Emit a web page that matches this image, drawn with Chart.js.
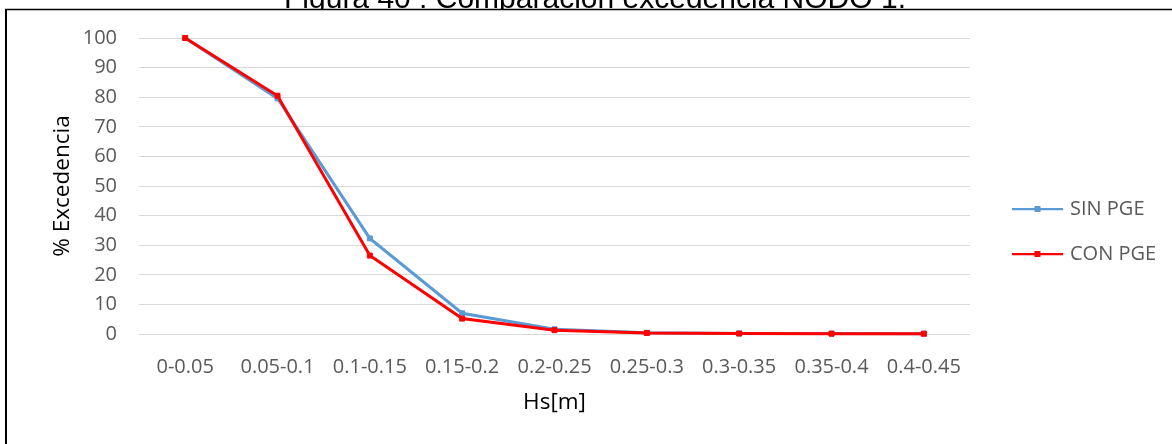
<!DOCTYPE html>
<html>
<head>
<meta charset="utf-8">
<script src="https://cdn.jsdelivr.net/npm/chart.js@4"></script>
<style>
  body { margin: 0; background: #fff; }
  #wrap { width: 1172px; height: 444px; position: relative; }
</style>
</head>
<body>
<div id="wrap"><canvas id="chart"></canvas></div>
<script>
// data
const categories = ['0-0.05', '0.05-0.1', '0.1-0.15', '0.15-0.2', '0.2-0.25', '0.25-0.3', '0.3-0.35', '0.35-0.4', '0.4-0.45'];
const sinPge = [100, 79.6, 32.3, 7.0, 1.6, 0.4, 0.2, 0.15, 0.1];
const conPge = [100, 80.5, 26.5, 5.2, 1.3, 0.35, 0.15, 0.1, 0.1];
const yTicks = [0, 10, 20, 30, 40, 50, 60, 70, 80, 90, 100];
const figTitle = 'Figura 40 : Comparación excedencia NODO 1.';

const tickFont = { family: 'Open Sans', size: 20 };
const titleFont = { family: 'Open Sans', size: 22.5 };

// white page, clipped caption above the frame, frame lines
const framePlugin = {
  id: 'frame',
  beforeDraw(chart) {
    const ctx = chart.ctx;
    ctx.save();
    ctx.fillStyle = '#fff';
    ctx.fillRect(0, 0, chart.width, chart.height);
    ctx.beginPath();
    ctx.rect(0, 0, chart.width, 9);
    ctx.clip();
    ctx.fillStyle = '#000';
    ctx.font = '30px "Liberation Sans", Arial, sans-serif';
    ctx.textAlign = 'center';
    ctx.textBaseline = 'alphabetic';
    ctx.fillText(figTitle, 595, 8);
    ctx.restore();

    ctx.save();
    ctx.strokeStyle = '#000';
    ctx.lineWidth = 1.5;
    ctx.beginPath();
    ctx.moveTo(5, 9.5);
    ctx.lineTo(chart.width, 9.5);
    ctx.stroke();
    ctx.lineWidth = 2;
    ctx.beginPath();
    ctx.moveTo(6, 9);
    ctx.lineTo(6, chart.height);
    ctx.stroke();
    ctx.restore();
  }
};

// legend on the right: short line with a square marker, then the label
const sideLegend = {
  id: 'sideLegend',
  afterDraw(chart) {
    const ctx = chart.ctx;
    const area = chart.chartArea;
    const items = [chart.data.datasets[0], chart.data.datasets[1]];
    const x0 = area.right + 42;
    const x1 = area.right + 93;
    const midY = chart.height / 2 + 9.5;
    ctx.save();
    items.forEach((ds, i) => {
      const y = midY + (i - 0.5) * 45;
      ctx.strokeStyle = ds.borderColor;
      ctx.lineWidth = 2.25;
      ctx.beginPath();
      ctx.moveTo(x0, y);
      ctx.lineTo(x1, y);
      ctx.stroke();
      ctx.fillStyle = ds.borderColor;
      ctx.fillRect((x0 + x1) / 2 - 3, y - 3, 6, 6);
      ctx.fillStyle = '#595959';
      ctx.font = '20px "Open Sans"';
      ctx.textAlign = 'left';
      ctx.textBaseline = 'middle';
      ctx.fillText(ds.label, x1 + 7, y);
    });
    ctx.restore();
  }
};

new Chart(document.getElementById('chart'), {
  type: 'line',
  data: {
    labels: categories,
    datasets: [
      {
        label: 'SIN PGE',
        data: sinPge,
        borderColor: '#5B9BD5',
        backgroundColor: '#5B9BD5',
        borderWidth: 3,
        pointStyle: 'rect',
        pointRadius: 3.5,
        pointBorderWidth: 1,
        tension: 0,
        clip: false,
        order: 1,
      },
      {
        label: 'CON PGE',
        data: conPge,
        borderColor: '#FF0000',
        backgroundColor: '#FF0000',
        borderWidth: 3,
        pointStyle: 'rect',
        pointRadius: 3.5,
        pointBorderWidth: 1,
        tension: 0,
        clip: false,
        order: 0,
      },
    ],
  },
  options: {
    responsive: true,
    maintainAspectRatio: false,
    animation: false,
    events: [],
    layout: {
      padding: { top: 38, right: 202, bottom: 28, left: 49 },
    },
    plugins: {
      legend: { display: false },
      title: { display: false },
      tooltip: { enabled: false },
    },
    scales: {
      x: {
        offset: true,
        afterFit: (scale) => { scale.height = 82; },
        grid: { display: false, drawTicks: false },
        border: { display: false },
        ticks: {
          color: '#595959',
          font: tickFont,
          padding: 21,
          maxRotation: 0,
          autoSkip: false,
        },
        title: {
          display: true,
          text: 'Hs[m]',
          color: '#000',
          font: titleFont,
          padding: { top: 0, bottom: 0 },
        },
      },
      y: {
        min: 0,
        max: 100,
        afterFit: (scale) => { scale.width = 90; },
        afterBuildTicks: (scale) => {
          scale.ticks = yTicks.map((v) => ({ value: v }));
        },
        grid: { color: '#D9D9D9', lineWidth: 1, drawTicks: false },
        border: { display: false },
        ticks: {
          color: '#595959',
          font: tickFont,
          padding: 22,
        },
        title: {
          display: true,
          text: '% Excedencia',
          color: '#000',
          font: titleFont,
          padding: { top: 0, bottom: 0 },
        },
      },
    },
  },
  plugins: [framePlugin, sideLegend],
});
</script>
</body>
</html>
